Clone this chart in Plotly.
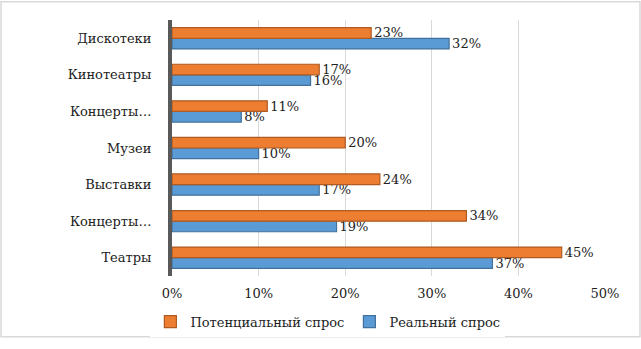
import plotly.graph_objects as go

categories = ["Театры", "Концерты…", "Выставки", "Музеи", "Концерты…", "Кинотеатры", "Дискотеки"]
potential = [45, 34, 24, 20, 11, 17, 23]
real = [37, 19, 17, 10, 8, 16, 32]
x_ticks = [0, 10, 20, 30, 40, 50]
x_tick_labels = [f"{v}%" for v in x_ticks]

pos = list(range(len(categories)))
font_fam = "DejaVu Serif"
fs = 13

fig = go.Figure()
fig.add_trace(go.Bar(
    y=pos, x=real, orientation="h", name="Реальный спрос",
    marker=dict(color="#5B9BD5", line=dict(color="#41719C", width=1.2)),
    text=[f"{v}%" for v in real], textposition="outside", constraintext="none",
    textfont=dict(family=font_fam, size=fs, color="#222"), cliponaxis=False,
))
fig.add_trace(go.Bar(
    y=pos, x=potential, orientation="h", name="Потенциальный спрос",
    marker=dict(color="#ED7D31", line=dict(color="#AE5A21", width=1.2)),
    text=[f"{v}%" for v in potential], textposition="outside", constraintext="none",
    textfont=dict(family=font_fam, size=fs, color="#222"), cliponaxis=False,
))

fig.update_layout(
    width=641, height=349,
    margin=dict(l=172, r=36, t=20, b=64),
    paper_bgcolor="white", plot_bgcolor="white",
    barmode="group", bargap=0.42, bargroupgap=0,
    font=dict(family=font_fam, size=fs, color="#222"),
    showlegend=True,
    legend=dict(orientation="h", x=0.36, xanchor="center", y=-0.12, yanchor="top",
                traceorder="reversed", font=dict(family=font_fam, size=fs, color="#222"),
                itemwidth=30, tracegroupgap=0),
    xaxis=dict(range=[0, 50], tickvals=x_ticks, ticktext=x_tick_labels,
               showgrid=True, gridcolor="#D9D9D9", gridwidth=1, zeroline=False,
               showline=False, ticks="", ticklabelstandoff=8),
    yaxis=dict(tickvals=pos, ticktext=categories, range=[-0.5, len(categories) - 0.5],
               showgrid=False, zeroline=False, showline=True, linecolor="#595959",
               linewidth=4, ticks="", ticklabelstandoff=14),
    shapes=[dict(type="rect", xref="paper", yref="paper", x0=-171/433, x1=1 + 35/433,
                 y0=-63/265, y1=1 + 19/265, line=dict(color="#D9D9D9", width=1.5))],
)

fig.write_html("out.html")
